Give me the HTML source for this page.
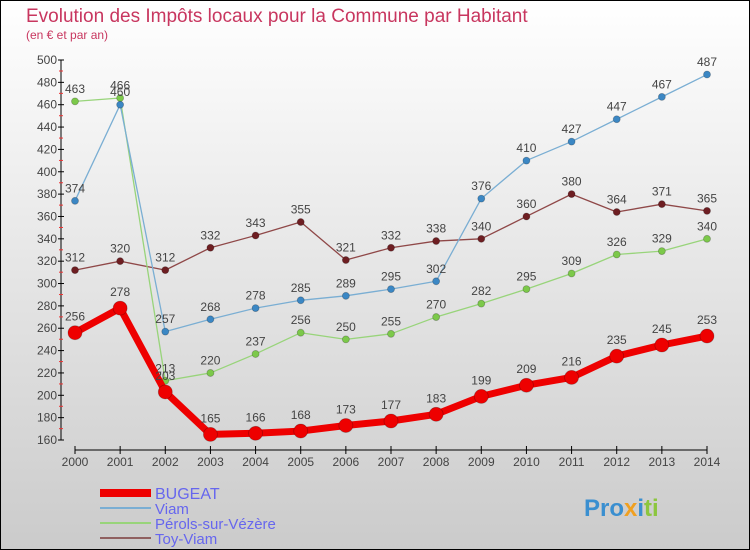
<!DOCTYPE html>
<html><head><meta charset="utf-8"><style>
body{margin:0;width:750px;height:550px;overflow:hidden}
svg{display:block;font-family:"Liberation Sans",sans-serif}
</style></head><body>
<svg id="c" width="750" height="550">
<defs><linearGradient id="bg" x1="0" y1="0" x2="0" y2="1"><stop offset="0" stop-color="#ffffff"/><stop offset="1" stop-color="#cbcbcb"/></linearGradient></defs>
<rect x="0.5" y="0.5" width="749" height="549" fill="url(#bg)" stroke="#000"/>
<text x="26" y="22" font-size="19" fill="#c8365f">Evolution des Impôts locaux pour la Commune par Habitant</text>
<text x="26" y="39" font-size="12" fill="#c8365f">(en € et par an)</text>
<g id="axes"></g><g id="series"></g>
<g>
<line x1="100" y1="493" x2="151" y2="493" stroke="#ee0000" stroke-width="8"/>
<text x="155" y="499" font-size="16" fill="#6666ee">BUGEAT</text>
<line x1="100" y1="508" x2="151" y2="508" stroke="#7aaed3" stroke-width="2"/>
<text x="155" y="514" font-size="15" fill="#6666ee">Viam</text>
<line x1="100" y1="523" x2="151" y2="523" stroke="#98d47a" stroke-width="2"/>
<text x="155" y="529" font-size="15" fill="#6666ee">Pérols-sur-Vézère</text>
<line x1="100" y1="538" x2="151" y2="538" stroke="#8f6060" stroke-width="2"/>
<text x="155" y="544" font-size="15" fill="#6666ee">Toy-Viam</text>
</g>
<text x="584" y="516" font-size="24" font-weight="bold" fill="#3a8fd0">Pro<tspan fill="#f0a020">x</tspan><tspan fill="#3a8fd0">i</tspan><tspan fill="#8cc63f">ti</tspan></text>
</svg>
<script>
const years=[2000,2001,2002,2003,2004,2005,2006,2007,2008,2009,2010,2011,2012,2013,2014];
const bugeat=[256,278,203,165,166,168,173,177,183,199,209,216,235,245,253];
const viam=[374,460,257,268,278,285,289,295,302,376,410,427,447,467,487];
const perols=[463,466,213,220,237,256,250,255,270,282,295,309,326,329,340];
const toyViam=[312,320,312,332,343,355,321,332,338,340,360,380,364,371,365];
const yTicks=[160,180,200,220,240,260,280,300,320,340,360,380,400,420,440,460,480,500];
const NS="http://www.w3.org/2000/svg";
const X=i=>75+i*(707-75)/14;
const Y=v=>440-(v-160)*(380/340);
function mk(t,a,p){const e=document.createElementNS(NS,t);for(const k in a)e.setAttribute(k,a[k]);p.appendChild(e);return e;}
const ax=document.getElementById('axes');
let yl=mk('line',{x1:61,y1:Y(500),x2:61,y2:440,stroke:'#000'},ax);


let xl=mk('line',{x1:75,y1:450,x2:707,y2:450,stroke:'#000'},ax);


yTicks.forEach(v=>{
 mk('line',{x1:58,y1:Y(v),x2:64,y2:Y(v),stroke:'#000'},ax);
 if(v>160) mk('line',{x1:59,y1:Y(v)+11,x2:63,y2:Y(v)+11,stroke:'#e33'},ax);
 const t=mk('text',{x:57,y:Y(v)+4,'font-size':12,'text-anchor':'end',fill:'#444'},ax);t.textContent=v;
 
 
});
years.forEach((y,i)=>{
 mk('line',{x1:X(i),y1:446,x2:X(i),y2:454,stroke:'#000'},ax);
 const t=mk('text',{x:X(i),y:466,'font-size':12,'text-anchor':'middle',fill:'#444'},ax);t.textContent=y;
 
 
});
const sg=document.getElementById('series');
function draw(data,color,dot,w,r,name){
 const g=mk('g',{},sg);
 
 
 const pl=mk('polyline',{points:data.map((v,i)=>X(i)+','+Y(v)).join(' '),fill:'none',stroke:color,'stroke-width':w,'stroke-linejoin':'round'},g);
 
 
 data.forEach((v,i)=>{
  const c=mk('circle',{cx:X(i),cy:Y(v),r:r,fill:dot,stroke:'rgba(0,0,0,0.25)','stroke-width':0.8},g);
  
  
  const t=mk('text',{x:X(i),y:Y(v)-(r+5),'font-size':12,'text-anchor':'middle',fill:'#444'},g);t.textContent=v;
  
  
 });
}
draw(toyViam,'#8f4848','#6e1e22',1.3,3.5,'series-toy-viam');
draw(perols,'#98d47a','#7cc94a',1.3,3.5,'series-perols');
draw(viam,'#7aaed3','#3b87c4',1.3,3.5,'series-viam');
draw(bugeat,'#ee0000','#ee0000',7,7,'series-bugeat');
</script>
</body></html>
